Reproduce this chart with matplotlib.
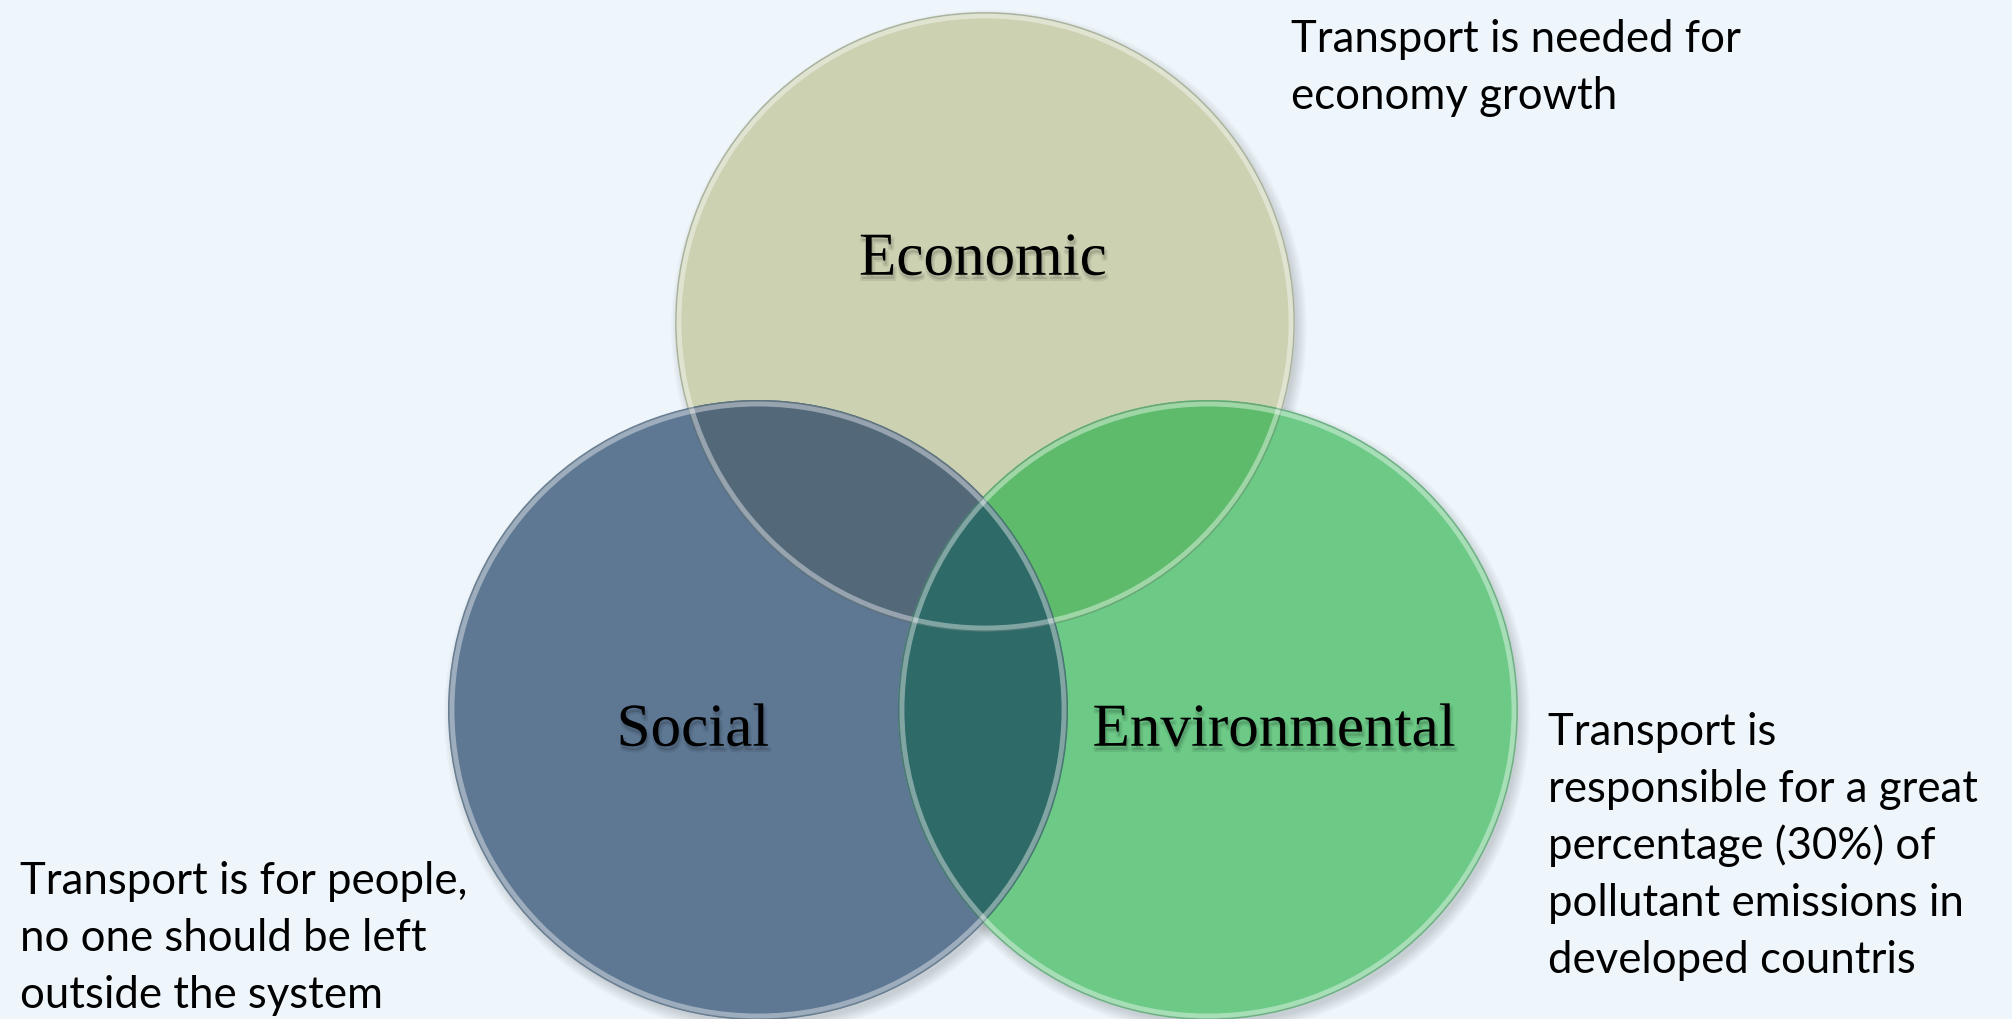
import matplotlib.pyplot as plt
from matplotlib.patches import Circle
import matplotlib.patheffects as pe

# sets of the diagram
labels = ["Economic", "Social", "Environmental"]
fill_colors = ["#CBD1B1", "#5E7893", "#6CC986"]

# overlap colours: (first, second, colour)
overlaps = [(0, 1, "#53697A"), (0, 2, "#5FBB6C"), (1, 2, "#2E6A67")]

notes = [
    "Transport is needed for\neconomy growth",
    "Transport is for people,\nno one should be left\noutside the system",
    "Transport is\nresponsible for a great\npercentage (30%) of\npollutant emissions in\ndeveloped countris",
]

bg = "#EEF6FC"

# layout (pixels, y down)
centers = [(985, 322), (758, 710), (1208, 710)]
radius = 310
label_pos = [(983, 260), (693, 731), (1274, 731)]
note_pos = [(1291, 52), (20, 894), (1548, 745)]
note_step = 57

fig = plt.figure(figsize=(20.12, 10.19), dpi=100)
fig.patch.set_facecolor(bg)
ax = fig.add_axes([0, 0, 1, 1])
ax.set_xlim(0, 2012)
ax.set_ylim(1019, 0)
ax.set_aspect("equal")
ax.axis("off")
ax.set_facecolor(bg)

# soft shadows
for c in centers:
    for k in range(8):
        ax.add_patch(Circle((c[0] + 4, c[1] + 6), radius + 8 - k * 1.5,
                            facecolor="black", edgecolor="none", alpha=0.018, zorder=1))

circles = []
for c, col in zip(centers, fill_colors):
    p = Circle(c, radius, facecolor=col, edgecolor="none", zorder=2)
    ax.add_patch(p)
    circles.append(p)

for i, j, col in overlaps:
    p = Circle(centers[j], radius, facecolor=col, edgecolor="none", zorder=3)
    ax.add_patch(p)
    p.set_clip_path(circles[i])

# glassy rims
for c in centers:
    ax.add_patch(Circle(c, radius - 1, facecolor="none", edgecolor="#7A8A8A",
                        lw=1.0, alpha=0.45, zorder=4))
    ax.add_patch(Circle(c, radius - 4, facecolor="none", edgecolor="white",
                        lw=3.5, alpha=0.4, zorder=4))

shadow = [pe.SimpleLineShadow(offset=(1, -3), shadow_color="black", alpha=0.08, linewidth=3),
          pe.withSimplePatchShadow(offset=(1, -3), shadow_rgbFace="black", alpha=0.12)]
for (x, y), lab in zip(label_pos, labels):
    ax.text(x, y, lab, ha="center", va="center", fontsize=44,
            family="Liberation Serif", color="black", zorder=6, path_effects=shadow)

for (x, y), note in zip(note_pos, notes):
    for k, line in enumerate(note.split("\n")):
        ax.text(x, y + k * note_step, line, ha="left", va="baseline",
                fontsize=31.5, family="Lato", color="black", zorder=6)

fig.savefig("out.png", dpi=100, facecolor=bg)
